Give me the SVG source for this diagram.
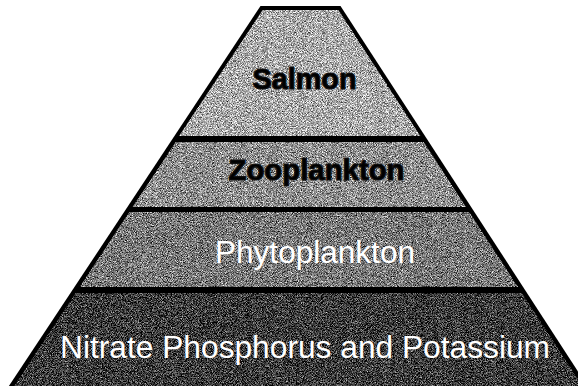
<svg xmlns="http://www.w3.org/2000/svg" width="578" height="386" viewBox="0 0 578 386">
  <defs>
    <filter id="grain" x="0" y="0" width="100%" height="100%" color-interpolation-filters="sRGB">
      <feTurbulence type="fractalNoise" baseFrequency="1.2" numOctaves="2" seed="7" result="t"/>
      <feColorMatrix in="t" type="matrix" values="1 0 0 0 0  1 0 0 0 0  1 0 0 0 0  0 0 0 0 1" result="g"/>
      <feComposite in="SourceGraphic" in2="g" operator="arithmetic" k1="0" k2="1" k3="1.6" k4="-0.8" result="m"/>
      <feComposite in="m" in2="SourceGraphic" operator="in"/>
    </filter>
    <style>
      .layer { filter: url(#grain); }
      .lbl { font-family: "Liberation Sans", Arial, sans-serif; text-anchor: middle; }
      .bold { font-weight: bold; fill: #000; stroke: #111; stroke-width: 1.2; stroke-linejoin: round; }
      .light { fill: #fff; }
    </style>
  </defs>
  <rect width="578" height="386" fill="#fff"/>
  <polygon id="outline" points="260.5,6 340.5,6 587.5,386 8.9,386" fill="#000"/>
  <g id="salmon">
    <polygon class="layer" points="262.4,10 338.6,10 420.5,136 178.9,136" fill="#aaaaaa"/>
    <text class="lbl bold" x="304.5" y="89" font-size="30" textLength="104" lengthAdjust="spacingAndGlyphs">Salmon</text>
  </g>
  <g id="zooplankton">
    <polygon class="layer" points="175.5,142 423.9,142 466.2,207 132.4,207" fill="#8e8e8e"/>
    <text class="lbl bold" x="316.5" y="180" font-size="30" textLength="176" lengthAdjust="spacingAndGlyphs">Zooplankton</text>
  </g>
  <g id="phytoplankton">
    <polygon class="layer" points="129.1,212 469.4,212 518.2,287 79.5,287" fill="#787878"/>
    <text class="lbl light" x="315" y="263" font-size="31" textLength="200" lengthAdjust="spacingAndGlyphs">Phytoplankton</text>
  </g>
  <g id="nutrients">
    <polygon class="layer" points="75.5,293 522.1,293 582.5,386 13.9,386" fill="#3a3a3a"/>
    <text class="lbl light" x="305" y="358" font-size="32" textLength="490" lengthAdjust="spacingAndGlyphs">Nitrate Phosphorus and Potassium</text>
  </g>
</svg>
